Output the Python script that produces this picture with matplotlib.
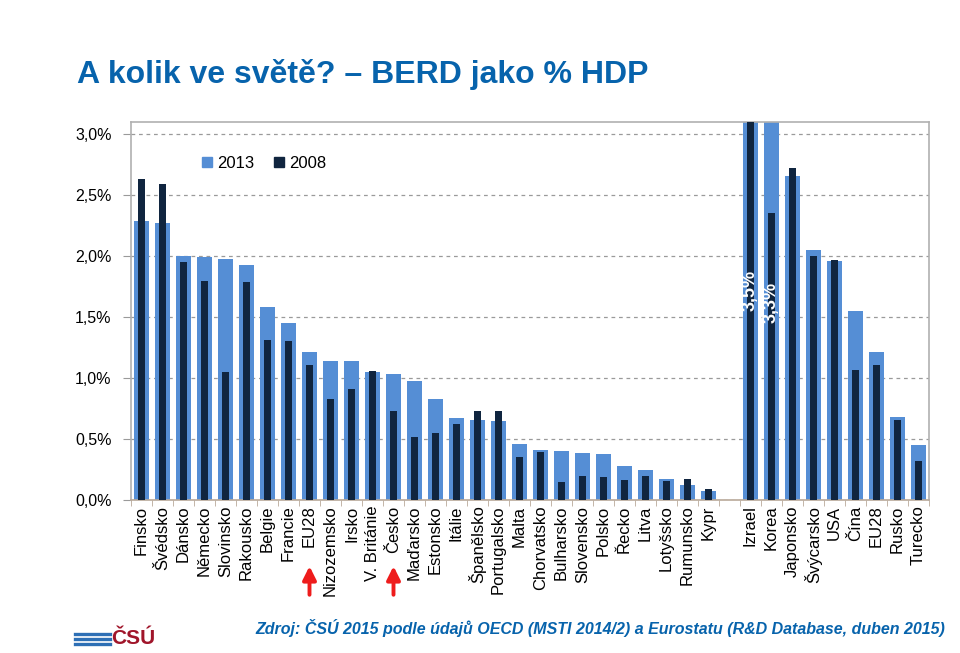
import numpy as np
import matplotlib.pyplot as plt
from matplotlib.patches import Patch

plt.rcParams['font.family'] = ['Liberation Sans', 'DejaVu Sans']

countries = ['Finsko', 'Švédsko', 'Dánsko', 'Německo', 'Slovinsko', 'Rakousko', 'Belgie',
             'Francie', 'EU28', 'Nizozemsko', 'Irsko', 'V. Británie', 'Česko', 'Maďarsko',
             'Estonsko', 'Itálie', 'Španělsko', 'Portugalsko', 'Malta', 'Chorvatsko',
             'Bulharsko', 'Slovensko', 'Polsko', 'Řecko', 'Litva', 'Lotyšsko', 'Rumunsko',
             'Kypr', '', 'Izrael', 'Korea', 'Japonsko', 'Švýcarsko', 'USA', 'Čína', 'EU28',
             'Rusko', 'Turecko']

# BERD as % of GDP
v2013 = [2.29, 2.27, 2.00, 1.99, 1.98, 1.93, 1.58, 1.45, 1.21, 1.14, 1.14, 1.05, 1.03, 0.98,
         0.83, 0.675, 0.66, 0.65, 0.46, 0.41, 0.40, 0.385, 0.38, 0.275, 0.245, 0.17, 0.12,
         0.07, np.nan, 3.5, 3.3, 2.66, 2.05, 1.96, 1.55, 1.21, 0.68, 0.45]
v2008 = [2.63, 2.59, 1.95, 1.80, 1.05, 1.79, 1.31, 1.30, 1.11, 0.83, 0.91, 1.06, 0.73, 0.52,
         0.55, 0.625, 0.73, 0.73, 0.355, 0.39, 0.145, 0.20, 0.19, 0.165, 0.195, 0.155, 0.17,
         0.09, np.nan, 3.6, 2.35, 2.72, 2.005, 1.97, 1.07, 1.11, 0.66, 0.32]

yticks = [0, 0.5, 1.0, 1.5, 2.0, 2.5, 3.0]
ytick_labels = ['0,0%', '0,5%', '1,0%', '1,5%', '2,0%', '2,5%', '3,0%']

light = '#558ED5'
dark = '#10253F'
blue_txt = '#0763AC'

fig = plt.figure(figsize=(9.6, 6.53), dpi=100)
ax = fig.add_axes([131/960, 153/653, 798/960, 378/653])

x = np.arange(len(countries))
ax.bar(x, v2013, width=0.68, color=light, zorder=2)
ax.bar(x, v2008, width=0.38, color=dark, zorder=3)

ax.set_xlim(-0.5, len(countries) - 0.5)
ax.set_ylim(0, 3.1)
ax.set_yticks(yticks)
ax.set_yticklabels(ytick_labels, fontsize=11.5)
ax.yaxis.grid(True, linestyle=(0, (3, 3)), color='#9a9a9a', linewidth=0.9, zorder=0)
ax.tick_params(axis='y', length=6, color='#9a9a9a', pad=8)

ax.set_xticks(x)
ax.set_xticklabels(countries, rotation=90, fontsize=12, va='top')
ax.set_xticks(np.arange(-0.5, len(countries)), minor=True)
ax.tick_params(axis='x', which='major', length=0, pad=4)
ax.tick_params(axis='x', which='minor', length=4, color='#b9a99a')

for s in ax.spines.values():
    s.set_color('#b0b0b0')
    s.set_linewidth(1.2)
ax.spines['bottom'].set_color('#b9a99a')

lab_font = ['Liberation Sans Narrow', 'Liberation Sans']
ax.text(29, 1.72, '3,5%', rotation=90, color='white', fontsize=13, fontweight='bold',
        ha='center', va='center', zorder=4, family=lab_font)
ax.text(30, 1.62, '3,3%', rotation=90, color='white', fontsize=13, fontweight='bold',
        ha='center', va='center', zorder=4, family=lab_font)

ax.legend(handles=[Patch(color=light, label='2013'), Patch(color=dark, label='2008')],
          loc='upper left', bbox_to_anchor=(0.07, 0.95), ncol=2, frameon=False,
          fontsize=12, handlelength=0.6, handleheight=0.6, handletextpad=0.3,
          columnspacing=1.2)

fig.text(77/960, 1 - 75/653, 'A kolik ve světě? – BERD jako % HDP', fontsize=23,
         fontweight='bold', color=blue_txt, va='center', ha='left')

# red arrows under EU28 and Česko
for i in (8, 12):
    ax.annotate('', xy=(i, -0.52), xytext=(i, -0.80), xycoords='data', textcoords='data',
                arrowprops=dict(arrowstyle='-|>', color='#ee1c1c', lw=2.8,
                                mutation_scale=20), annotation_clip=False)

fig.text(945/960, 1 - 628/653,
         'Zdroj: ČSÚ 2015 podle údajů OECD (MSTI 2014/2) a Eurostatu (R&D Database, duben 2015)',
         fontsize=11.5, fontweight='bold', fontstyle='italic', color=blue_txt,
         ha='right', va='center', family=['Liberation Sans Narrow', 'Liberation Sans'])

# logo
for yy in (634, 639, 644):
    fig.add_artist(plt.Line2D([75/960, 110/960], [1 - yy/653] * 2, color='#2d6fb5', lw=2.4))
fig.text(111/960, 1 - 638/653, 'ČSÚ', fontsize=15, fontweight='bold', color='#a0152a',
         ha='left', va='center', family=lab_font)

fig.savefig('out.png', dpi=100)
